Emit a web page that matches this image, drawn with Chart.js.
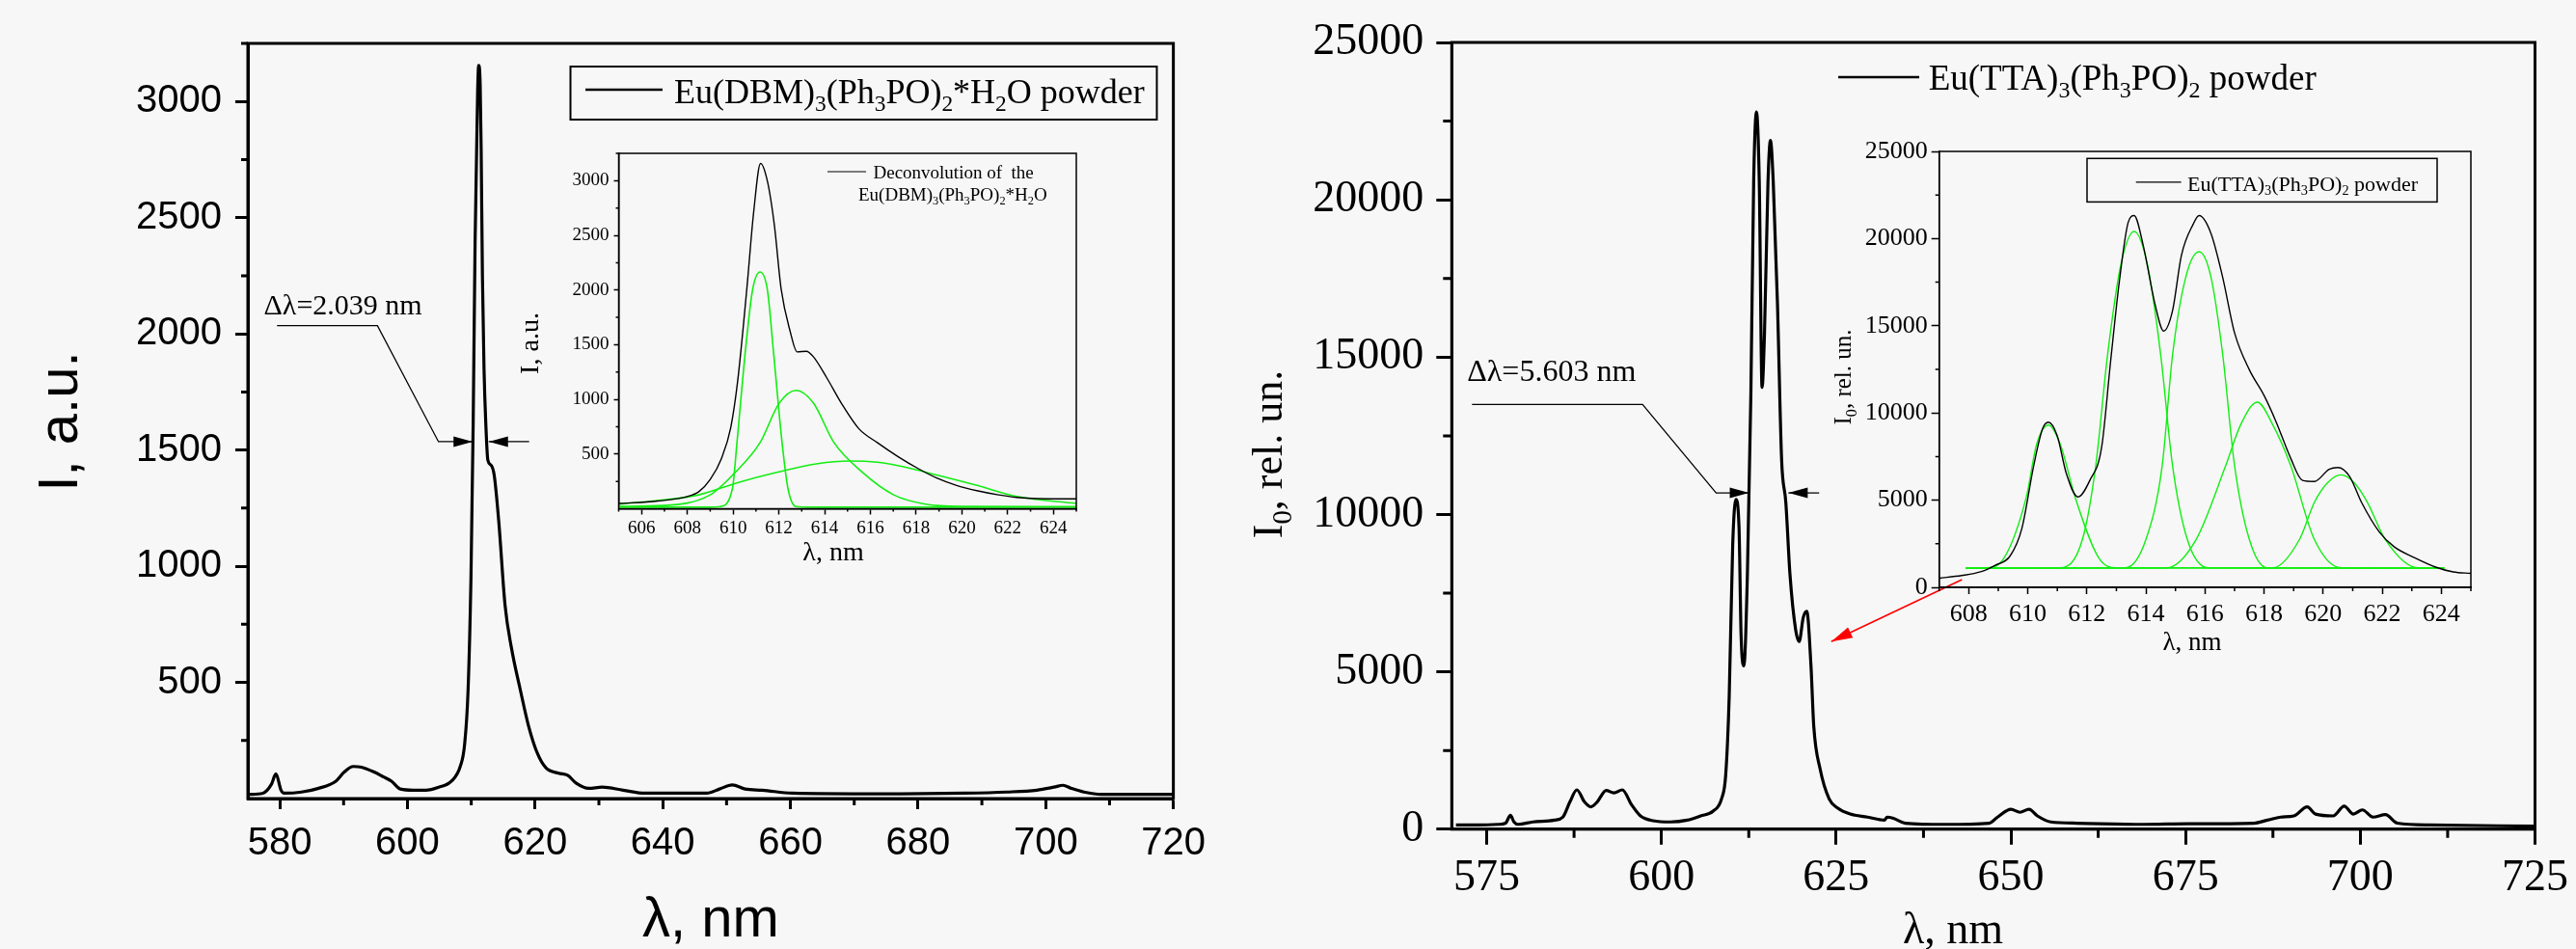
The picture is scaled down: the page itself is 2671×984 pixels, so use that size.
<!DOCTYPE html>
<html>
<head>
<meta charset="utf-8">
<script src="https://cdn.jsdelivr.net/npm/chart.js@4.4.1/dist/chart.umd.min.js"></script>
<style>
  html, body { margin: 0; padding: 0; background: #f7f7f7; }
  #wrap { position: relative; width: 2671px; height: 984px; overflow: hidden; }
  canvas { position: absolute; }
</style>
</head>
<body>
<div id="wrap">
  <canvas id="mainL" width="1262" height="984" style="left:0;top:0"></canvas>
  <canvas id="mainR" width="1409" height="984" style="left:1262px;top:0"></canvas>
  <canvas id="insL" width="620" height="460" style="left:520px;top:140px"></canvas>
  <canvas id="insR" width="700" height="580" style="left:1890px;top:120px"></canvas>
</div>
<script>
/* global Chart */

// ---- Eu(DBM)3(Ph3PO)2*H2O, spectre complet ----
const dbmWl = [575.2, 577.35, 578.7, 579.4, 580.2, 580.7, 583.4, 586.1, 588.8, 590.1, 591.5, 592.8, 594.8, 596.2, 597.5, 598.9,
  600.9, 602.9, 604.9, 606.9, 608.3, 608.95, 609.5, 609.96, 610.3, 610.6, 611.0, 611.17, 611.4, 611.55, 611.75, 612.0, 612.3,
  612.6, 613.1, 613.6, 614.3, 615.3, 616.3, 617.7, 619.0, 620.4, 621.7, 623.7, 625.1, 626.4, 628.4, 630.5, 633.8, 637.2,
  640.1, 646.9, 648.9, 650.9, 652.9, 655.6, 660.3, 673.8, 687.2, 693.9, 698.6, 701.3, 702.7, 704.0, 706.0, 708.7, 720];
const dbmI = [18, 23, 62, 106, 36, 23, 28, 44, 75, 114, 138, 135, 114, 94, 75, 41,
  36, 36, 49, 75, 140, 231, 466, 961, 1612, 2394, 3046, 3155, 3072, 2800, 2250, 1850, 1600,
  1456, 1435, 1391, 1196, 831, 648, 466, 310, 192, 132, 109, 100, 67, 44, 49, 36, 23,
  23, 23, 41, 59, 41, 36, 23, 20, 23, 28, 36, 49, 57, 44, 28, 18, 18];

// ---- déconvolution (encart gauche) ----
const dbmFitWl = [605.0, 606.7, 608.0, 608.5, 609.0, 609.5, 609.9, 610.2, 610.6, 610.9, 611.2, 611.5, 611.8, 612.1, 612.5,
  612.8, 613.2, 613.5, 614.1, 614.8, 615.5, 616.3, 617.2, 618.1, 618.9, 619.8, 620.7, 621.6, 622.4, 623.3, 625.0];
const dbmFitI = [48, 70, 112, 155, 267, 464, 745, 1167, 2010, 2714, 3158, 2995, 2600, 2010, 1617,
  1434, 1440, 1392, 1195, 942, 731, 605, 478, 366, 281, 211, 163, 127, 104, 93, 90];
const dbmG1Wl = [605, 609.0, 609.44, 609.97, 610.17, 610.54, 610.85, 611.18, 611.5, 611.76, 612.14, 612.4, 612.75, 613.5, 625];
const dbmG1I  = [14, 14, 20, 183, 605, 1448, 2000, 2165, 2000, 1448, 605, 183, 20, 14, 14];
const dbmG2Wl = [605, 607, 609.0, 610.05, 611.18, 612.0, 612.75, 613.5, 614.41, 615.71, 617.02, 618.41, 620, 625];
const dbmG2I  = [22, 30, 127, 323, 605, 960, 1083, 970, 605, 323, 127, 42, 22, 20];
const dbmG3Wl = [605, 606.7, 608.5, 610.2, 612.0, 613.7, 615.1, 616.3, 617.2, 618.9, 620.7, 622.4, 625];
const dbmG3I  = [42, 75, 127, 239, 337, 413, 436, 425, 394, 309, 211, 112, 48];

// ---- Eu(TTA)3(Ph3PO)2, spectre complet ----
const ttaWl = [570.6, 573.7, 576.7, 577.7, 578.4, 578.9, 579.5, 581.6, 584.7, 585.9, 586.9, 587.9, 589.0, 589.9, 590.8,
  592.1, 593.2, 594.4, 595.75, 597.0, 598.8, 601.3, 603.7, 605.6, 607.4, 608.6, 609.2, 609.7, 610.2, 610.65, 611.1,
  611.4, 611.8, 612.3, 612.8, 613.2, 613.6, 614.0, 614.4, 614.75, 615.25, 615.6, 616.0, 616.6, 617.2, 617.8, 618.4,
  619.2, 619.7, 620.3, 620.8, 621.4, 621.8, 622.7, 624.0, 625.2, 627.0, 629.5, 631.9, 632.3, 633.2, 634.9, 640.6,
  646.9, 648.1, 650.0, 651.3, 652.6, 653.8, 655.7, 659.5, 669.0, 675.3, 684.8, 686.7, 688.6, 690.5, 692.4, 693.6,
  696.1, 697.7, 699.0, 700.3, 701.8, 703.6, 705.3, 710.0, 725];
const ttaI = [135, 135, 154, 192, 442, 231, 154, 231, 288, 385, 865, 1250, 865, 712, 865,
  1231, 1154, 1250, 769, 423, 269, 231, 288, 423, 577, 962, 1731, 4231, 9038, 10480, 9615,
  6154, 5192, 8077, 13846, 20577, 22788, 20577, 14038, 15769, 20577, 21885, 20577, 16731, 11731, 10385, 8077,
  6346, 5962, 6731, 6923, 5192, 3269, 1923, 962, 673, 481, 385, 288, 385, 346, 192, 154,
  192, 385, 635, 538, 635, 423, 231, 192, 154, 173, 192, 288, 385, 423, 712, 481,
  423, 731, 481, 615, 385, 462, 192, 135, 96];

// ---- déconvolution (encart droit) ----
const ttaFitWl = [607.0, 607.76, 608.4, 608.9, 609.4, 609.8, 610.2, 610.5, 610.7, 611.0, 611.3, 611.7, 612.1, 612.5, 612.8,
  613.1, 613.4, 613.6, 613.9, 614.3, 614.6, 614.9, 615.2, 615.6, 615.8, 616.2, 616.6, 617.0, 617.5, 618.0, 618.4,
  618.9, 619.3, 619.7, 620.2, 620.5, 620.9, 621.3, 621.9, 622.4, 623.1, 623.8, 624.4, 625.0];
const ttaFitI = [529, 677, 888, 1269, 1798, 3384, 6980, 9095, 9475, 8672, 6557, 5182, 6134, 8037, 12902,
  17555, 20939, 21319, 19670, 16286, 14700, 15863, 19035, 20833, 21319, 20304, 17766, 14594, 12479, 10998, 9518,
  7403, 6134, 6070, 6768, 6874, 6345, 4865, 3173, 2327, 1692, 1163, 888, 804];
const ttaG1Wl = [607.9, 608.6, 609.2, 609.95, 610.3, 610.7, 611.1, 611.6, 612.4, 613.0, 624.1];
const ttaG1I  = [1100, 1120, 1692, 5182, 8200, 9306, 8200, 5182, 1692, 1120, 1100];
const ttaG2Wl = [607.9, 611.1, 611.85, 612.3, 612.7, 613.15, 613.6, 614.05, 614.5, 614.9, 615.4, 616.1, 624.1];
const ttaG2I  = [1100, 1120, 2750, 6980, 13324, 18500, 20410, 18500, 13324, 6980, 2750, 1120, 1100];
const ttaG3Wl = [607.9, 613.3, 614.0, 614.55, 614.9, 615.35, 615.8, 616.2, 616.6, 617.0, 617.5, 618.1, 624.1];
const ttaG3I  = [1100, 1120, 2750, 6980, 13324, 17800, 19247, 17800, 13324, 6980, 2750, 1120, 1100];
const ttaG4Wl = [607.9, 614.7, 615.7, 616.7, 617.2, 617.77, 618.3, 618.9, 619.7, 620.6, 624.1];
const ttaG4I  = [1100, 1120, 2750, 6980, 9300, 10617, 9300, 6980, 2750, 1120, 1100];
const ttaG5Wl = [607.9, 618.3, 619.2, 619.7, 620.15, 620.6, 621.05, 621.5, 622.1, 623.2, 624.1];
const ttaG5I  = [1100, 1120, 2750, 4865, 6000, 6451, 6000, 4865, 2750, 1120, 1100];

// ---- graduations ----
const mainLXTicks = [580, 600, 620, 640, 660, 680, 700, 720];
const mainLYTicks = [500, 1000, 1500, 2000, 2500, 3000];
const mainLXMinor = [590, 610, 630, 650, 670, 690, 710];
const mainLYMinor = [250, 750, 1250, 1750, 2250, 2750, 3250];
const insLXTicks  = [606, 608, 610, 612, 614, 616, 618, 620, 622, 624];
const insLYTicks  = [500, 1000, 1500, 2000, 2500, 3000];
const insLXMinor  = [605, 607, 609, 611, 613, 615, 617, 619, 621, 623, 625];
const insLYMinor  = [250, 750, 1250, 1750, 2250, 2750, 3250];
const mainRXTicks = [575, 600, 625, 650, 675, 700, 725];
const mainRYTicks = [0, 5000, 10000, 15000, 20000, 25000];
const mainRXMinor = [587.5, 612.5, 637.5, 662.5, 687.5, 712.5];
const mainRYMinor = [2500, 7500, 12500, 17500, 22500];
const insRXTicks  = [608, 610, 612, 614, 616, 618, 620, 622, 624];
const insRYTicks  = [0, 5000, 10000, 15000, 20000, 25000];
const insRXMinor  = [607, 609, 611, 613, 615, 617, 619, 621, 623, 625];
const insRYMinor  = [2500, 7500, 12500, 17500, 22500];

const SANS  = "'Liberation Sans', Arial, sans-serif";
const SERIF = "'Liberation Serif', 'Times New Roman', serif";
const GREEN = '#12ee12';

const pts = (xs, ys) => xs.map((x, i) => ({ x, y: ys[i] }));

function line(xs, ys, color, width) {
  return {
    data: pts(xs, ys),
    borderColor: color,
    borderWidth: width,
    pointRadius: 0,
    fill: false,
    cubicInterpolationMode: 'monotone',
  };
}

function axis(o) {
  return {
    type: 'linear',
    min: o.min,
    max: o.max,
    afterBuildTicks: s => { s.ticks = o.ticks.map(v => ({ value: v })); },
    afterFit: s => { if (o.horizontal) s.height = o.size; else s.width = o.size; },
    border: { display: true, color: '#000', width: o.lw },
    grid: { drawOnChartArea: false, drawTicks: true, tickLength: o.tickLen, tickWidth: o.lw, tickColor: '#000' },
    ticks: {
      font: { family: o.family, size: o.fontSize },
      color: '#000',
      padding: o.pad,
      maxRotation: 0,
      autoSkip: false,
      callback: v => String(v),
    },
  };
}

// texte avec indices (parties commençant par "_")
function richWidth(ctx, parts, size, family) {
  let w = 0;
  for (const p of parts) {
    const sub = p.startsWith('_');
    ctx.font = `${sub ? size * 0.65 : size}px ${family}`;
    w += ctx.measureText(sub ? p.slice(1) : p).width;
  }
  return w;
}
function drawRich(ctx, parts, x, y, size, family, center) {
  let cx = center ? x - richWidth(ctx, parts, size, family) / 2 : x;
  ctx.textAlign = 'left';
  ctx.textBaseline = 'alphabetic';
  for (const p of parts) {
    const sub = p.startsWith('_');
    const t = sub ? p.slice(1) : p;
    ctx.font = `${sub ? size * 0.65 : size}px ${family}`;
    ctx.fillText(t, cx, sub ? y + size * 0.22 : y);
    cx += ctx.measureText(t).width;
  }
}
function arrowHead(ctx, x1, y1, x2, y2, len, half) {
  const a = Math.atan2(y2 - y1, x2 - x1);
  const bx = x2 - len * Math.cos(a), by = y2 - len * Math.sin(a);
  ctx.beginPath();
  ctx.moveTo(x2, y2);
  ctx.lineTo(bx + half * Math.sin(a), by - half * Math.cos(a));
  ctx.lineTo(bx - half * Math.sin(a), by + half * Math.cos(a));
  ctx.closePath();
  ctx.fill();
}

// cadre, petites graduations, titres, légende, flèches
function decor(cfg) {
  return {
    id: 'decor',
    afterDraw(chart) {
      const { ctx, chartArea: a } = chart;
      const xs = chart.scales.x, ys = chart.scales.y;
      ctx.save();
      ctx.strokeStyle = '#000';
      ctx.fillStyle = '#000';
      ctx.lineWidth = cfg.frame;
      ctx.strokeRect(a.left, a.top, a.right - a.left, a.bottom - a.top);

      ctx.beginPath();
      cfg.minorX.forEach(v => {
        const px = xs.getPixelForValue(v);
        ctx.moveTo(px, a.bottom); ctx.lineTo(px, a.bottom + cfg.minorLen);
      });
      cfg.minorY.forEach(v => {
        const py = ys.getPixelForValue(v);
        ctx.moveTo(a.left, py); ctx.lineTo(a.left - cfg.minorLen, py);
      });
      ctx.stroke();

      const xt = cfg.xTitle;
      drawRich(ctx, xt.parts, xt.x, xt.y, xt.size, xt.family, true);
      const yt = cfg.yTitle;
      ctx.save();
      ctx.translate(yt.x, yt.y);
      ctx.rotate(-Math.PI / 2);
      drawRich(ctx, yt.parts, 0, 0, yt.size, yt.family, true);
      ctx.restore();

      const lg = cfg.legend;
      if (lg.box) {
        ctx.lineWidth = lg.boxW;
        ctx.strokeRect(lg.box[0], lg.box[1], lg.box[2], lg.box[3]);
      }
      ctx.lineWidth = lg.lineW;
      ctx.beginPath();
      ctx.moveTo(lg.line[0], lg.line[2]); ctx.lineTo(lg.line[1], lg.line[2]);
      ctx.stroke();
      lg.rows.forEach(r => drawRich(ctx, r.parts, r.x, r.y, lg.size, SERIF, false));

      const an = cfg.note;
      if (an) {
        const P = p => [xs.getPixelForValue(p[0]), ys.getPixelForValue(p[1])];
        ctx.lineWidth = 1.3;
        const t = P(an.textAt);
        drawRich(ctx, [an.text], t[0], t[1], an.size, SERIF, false);
        const poly = an.leader.map(P);
        ctx.beginPath();
        poly.forEach((p, i) => (i ? ctx.lineTo(p[0], p[1]) : ctx.moveTo(p[0], p[1])));
        ctx.stroke();
        const n = poly.length;
        arrowHead(ctx, poly[n - 2][0], poly[n - 2][1], poly[n - 1][0], poly[n - 1][1], 20, 5.5);
        const r0 = P(an.right[0]), r1 = P(an.right[1]);
        ctx.beginPath(); ctx.moveTo(r0[0], r0[1]); ctx.lineTo(r1[0], r1[1]); ctx.stroke();
        arrowHead(ctx, r0[0], r0[1], r1[0], r1[1], 20, 5.5);
      }

      const ra = cfg.redArrow;
      if (ra) {
        const p0 = [xs.getPixelForValue(ra[0][0]), ys.getPixelForValue(ra[0][1])];
        const p1 = [xs.getPixelForValue(ra[1][0]), ys.getPixelForValue(ra[1][1])];
        ctx.strokeStyle = '#ff0000';
        ctx.fillStyle = '#ff0000';
        ctx.lineWidth = 1.6;
        ctx.beginPath(); ctx.moveTo(p0[0], p0[1]); ctx.lineTo(p1[0], p1[1]); ctx.stroke();
        arrowHead(ctx, p0[0], p0[1], p1[0], p1[1], 22, 6);
      }
      ctx.restore();
    },
  };
}

function build(id, o) {
  return new Chart(document.getElementById(id), {
    type: 'line',
    data: { datasets: o.datasets },
    options: {
      responsive: false,
      animation: false,
      devicePixelRatio: 1,
      layout: { padding: o.padding },
      plugins: { legend: { display: false }, tooltip: { enabled: false } },
      scales: { x: axis(o.x), y: axis(o.y) },
    },
    plugins: [decor(o.decor)],
  });
}

// ---- graphique gauche ----
build('mainL', {
  padding: { left: 0, top: 45, right: 42, bottom: 0 },
  datasets: [line(dbmWl, dbmI, '#000', 3.2)],
  x: { min: 575, max: 720, ticks: mainLXTicks, horizontal: true, size: 156, lw: 3, tickLen: 11, family: SANS, fontSize: 40, pad: 12 },
  y: { min: 0, max: 3250, ticks: mainLYTicks, size: 257, lw: 3, tickLen: 13, family: SANS, fontSize: 40, pad: 14 },
  decor: {
    frame: 3, minorLen: 7, minorX: mainLXMinor, minorY: mainLYMinor,
    xTitle: { parts: ['λ, nm'], x: 737, y: 971, size: 58, family: SANS },
    yTitle: { parts: ['I, a.u.'], x: 80, y: 437, size: 58, family: SANS },
    legend: {
      box: [591.5, 69, 608, 55], boxW: 2, line: [607, 687, 93], lineW: 2.5, size: 36,
      rows: [{ parts: ['Eu(DBM)', '_3', '(Ph', '_3', 'PO)', '_2', '*H', '_2', 'O powder'], x: 699, y: 107 }],
    },
    note: {
      text: 'Δλ=2.039 nm', size: 30, textAt: [577.5, 2083],
      leader: [[579.57, 2035], [595.3, 2035], [604.86, 1536], [610.24, 1536]],
      right: [[619.07, 1536], [612.74, 1536]],
    },
  },
});

// ---- encart gauche ----
build('insL', {
  padding: { left: 0, top: 19, right: 24, bottom: 0 },
  datasets: [
    line(dbmFitWl, dbmFitI, '#000', 1.4),
    line(dbmG1Wl, dbmG1I, GREEN, 1.6),
    line(dbmG2Wl, dbmG2I, GREEN, 1.6),
    line(dbmG3Wl, dbmG3I, GREEN, 1.6),
  ],
  x: { min: 605, max: 625, ticks: insLXTicks, horizontal: true, size: 72.5, lw: 1.5, tickLen: 6, family: SERIF, fontSize: 19, pad: 3 },
  y: { min: 0, max: 3250, ticks: insLYTicks, size: 121.5, lw: 1.5, tickLen: 5, family: SERIF, fontSize: 19, pad: 5 },
  decor: {
    frame: 1.5, minorLen: 3, minorX: insLXMinor, minorY: insLYMinor,
    xTitle: { parts: ['λ, nm'], x: 344, y: 441, size: 28, family: SERIF },
    yTitle: { parts: ['I, a.u.'], x: 38, y: 216, size: 28, family: SERIF },
    legend: {
      box: null, line: [338, 378, 38], lineW: 1.2, size: 19,
      rows: [
        { parts: ['Deconvolution of  the'], x: 385.5, y: 44.6 },
        { parts: ['Eu(DBM)', '_3', '(Ph', '_3', 'PO)', '_2', '*H', '_2', 'O'], x: 370, y: 67.6 },
      ],
    },
  },
});

// ---- graphique droit ----
build('mainR', {
  padding: { left: 0, top: 44, right: 37, bottom: 0 },
  datasets: [line(ttaWl, ttaI, '#000', 3.2)],
  x: { min: 570, max: 725, ticks: mainRXTicks, horizontal: true, size: 124.2, lw: 3, tickLen: 16, family: SERIF, fontSize: 46, pad: 8 },
  y: { min: 0, max: 25000, ticks: mainRYTicks, size: 243.3, lw: 3, tickLen: 16, family: SERIF, fontSize: 46, pad: 13 },
  decor: {
    frame: 3, minorLen: 9, minorX: mainRXMinor, minorY: mainRYMinor,
    xTitle: { parts: ['λ, nm'], x: 763, y: 978, size: 46, family: SERIF },
    yTitle: { parts: ['I', '_0', ', rel. un.'], x: 67, y: 471, size: 44, family: SERIF },
    legend: {
      box: null, line: [644, 728, 80], lineW: 2.5, size: 37,
      rows: [{ parts: ['Eu(TTA)', '_3', '(Ph', '_3', 'PO)', '_2', ' powder'], x: 737.7, y: 93 }],
    },
    note: {
      text: 'Δλ=5.603 nm', size: 32, textAt: [572.2, 14240],
      leader: [[572.9, 13499], [597.3, 13499], [607.83, 10686], [612.54, 10686]],
      right: [[622.57, 10686], [618.17, 10686]],
    },
    redArrow: [[643.0, 7929], [624.3, 5959]],
  },
});

// ---- encart droit ----
build('insR', {
  padding: { left: 0, top: 37, right: 28, bottom: 0 },
  datasets: [
    line(ttaFitWl, ttaFitI, '#000', 1.4),
    line(ttaG1Wl, ttaG1I, GREEN, 1.4),
    line(ttaG2Wl, ttaG2I, GREEN, 1.4),
    line(ttaG3Wl, ttaG3I, GREEN, 1.4),
    line(ttaG4Wl, ttaG4I, GREEN, 1.4),
    line(ttaG5Wl, ttaG5I, GREEN, 1.4),
  ],
  x: { min: 607, max: 625, ticks: insRXTicks, horizontal: true, size: 91, lw: 1.5, tickLen: 7, family: SERIF, fontSize: 26, pad: 6 },
  y: { min: 0, max: 25000, ticks: insRYTicks, size: 120.7, lw: 1.5, tickLen: 8, family: SERIF, fontSize: 26, pad: 4 },
  decor: {
    frame: 1.5, minorLen: 4, minorX: insRXMinor, minorY: insRYMinor,
    xTitle: { parts: ['λ, nm'], x: 383, y: 554, size: 27, family: SERIF },
    yTitle: { parts: ['I', '_0', ', rel. un.'], x: 29, y: 271, size: 25, family: SERIF },
    legend: {
      box: [274, 44.3, 363, 45.1], boxW: 1.5, line: [324.7, 371.6, 68.8], lineW: 1.2, size: 22,
      rows: [{ parts: ['Eu(TTA)', '_3', '(Ph', '_3', 'PO)', '_2', ' powder'], x: 378, y: 77.6 }],
    },
  },
});
</script>
</body>
</html>
